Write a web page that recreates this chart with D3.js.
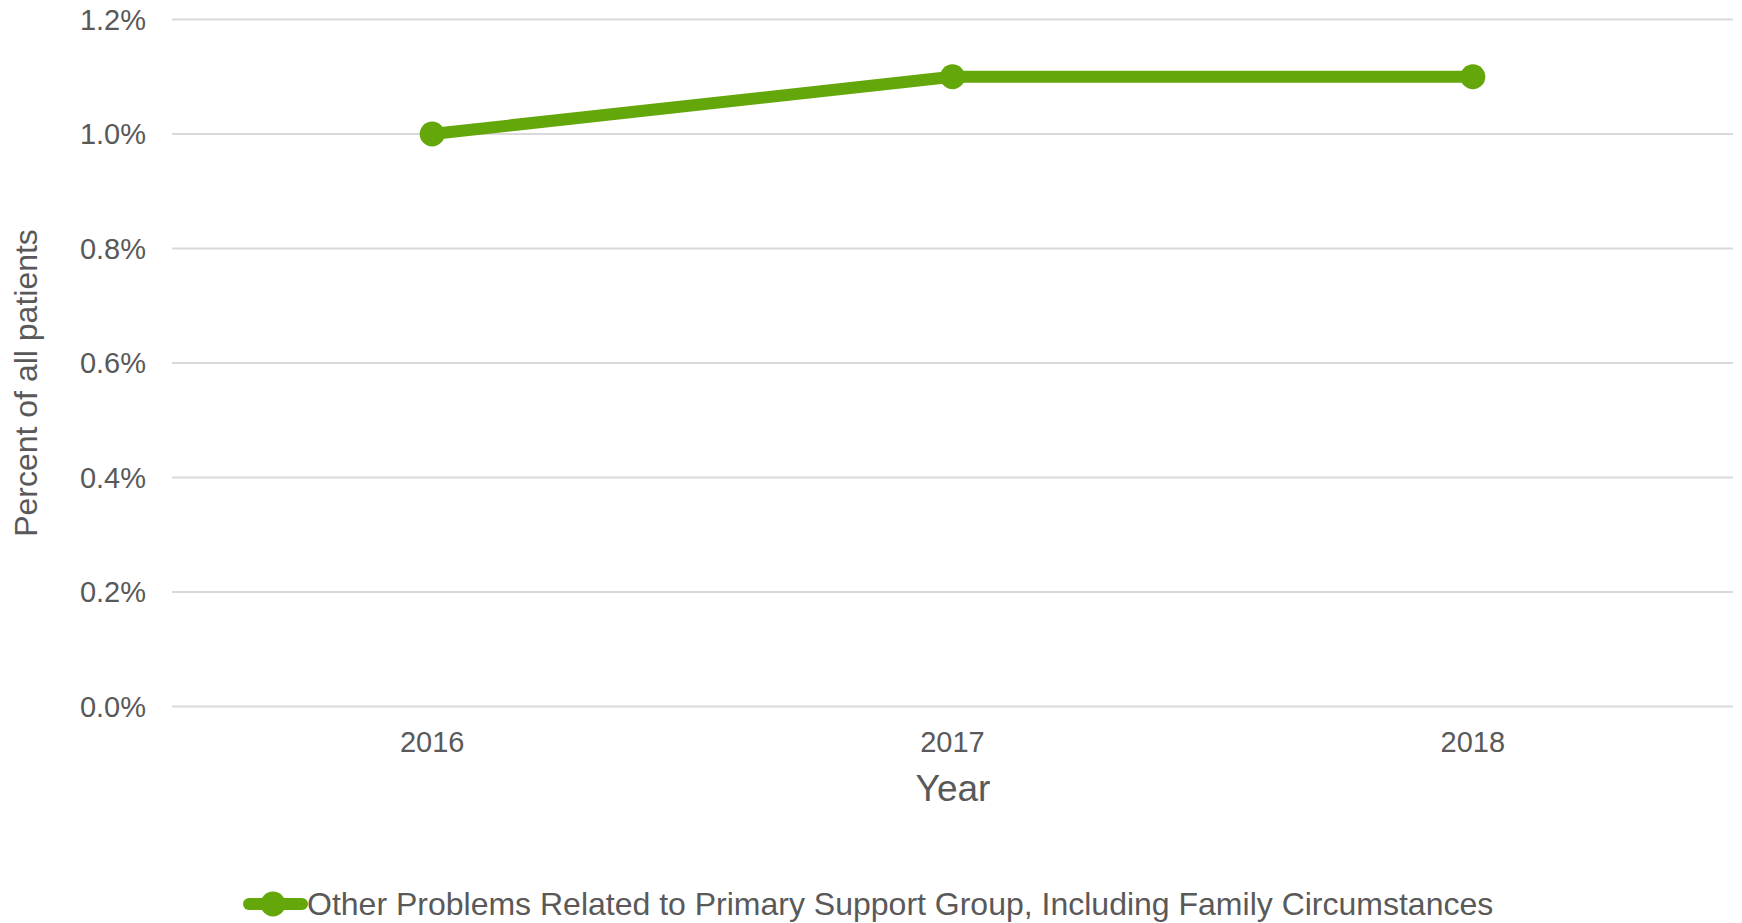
<!DOCTYPE html>
<html><head><meta charset="utf-8">
<script src="https://cdn.jsdelivr.net/npm/d3@7"></script>
<style>body{margin:0;background:#fff}svg{display:block}text{font-family:"Liberation Sans",Arial,sans-serif;fill:#595959}</style>
</head><body>
<script>
const years = ["2016","2017","2018"];
const values = [1.0, 1.1, 1.1];
const yTicks = [0, 0.2, 0.4, 0.6, 0.8, 1.0, 1.2];
const seriesName = "Other Problems Related to Primary Support Group, Including Family Circumstances";
const W = 1742, H = 923;
const m = {l:172, r:9, t:19.5, b:216.5};
const svg = d3.select("body").append("svg").attr("width",W).attr("height",H);
const x = d3.scaleBand().domain(years).range([m.l, W-m.r]);
const y = d3.scaleLinear().domain([0,1.2]).range([H-m.b, m.t]);
const green = "#64a70b";
// grid
svg.append("g").selectAll("line").data(yTicks).join("line")
  .attr("x1",m.l).attr("x2",W-m.r).attr("y1",d=>y(d)).attr("y2",d=>y(d))
  .attr("stroke","#d9d9d9").attr("stroke-width",2);
// y labels
svg.append("g").selectAll("text").data(yTicks).join("text")
  .attr("x",146).attr("y",d=>y(d)+10).attr("text-anchor","end")
  .style("font-size","29px").text(d=>d.toFixed(1)+"%");
// x labels
svg.append("g").selectAll("text").data(years).join("text")
  .attr("x",d=>x(d)+x.bandwidth()/2).attr("y",752).attr("text-anchor","middle")
  .style("font-size","29px").text(d=>d);
// axis titles
svg.append("text").attr("x",953).attr("y",801).attr("text-anchor","middle")
  .style("font-size","37px").text("Year");
svg.append("text").attr("transform","translate(36.5,383) rotate(-90)").attr("text-anchor","middle")
  .style("font-size","32px").text("Percent of all patients");
// line
const pts = years.map((d,i)=>({year:d,v:values[i]}));
svg.append("path").datum(pts)
  .attr("d",d3.line().x(d=>x(d.year)+x.bandwidth()/2).y(d=>y(d.v)))
  .attr("fill","none").attr("stroke",green).attr("stroke-width",12).attr("stroke-linejoin","round");
svg.append("g").selectAll("circle").data(pts).join("circle")
  .attr("cx",d=>x(d.year)+x.bandwidth()/2).attr("cy",d=>y(d.v)).attr("r",12.5).attr("fill",green);
// legend
const lg = svg.append("g");
lg.append("line").attr("x1",249).attr("x2",302).attr("y1",904).attr("y2",904)
  .attr("stroke",green).attr("stroke-width",12).attr("stroke-linecap","round");
lg.append("circle").attr("cx",273).attr("cy",904).attr("r",12.5).attr("fill",green);
lg.append("text").attr("x",307).attr("y",915).style("font-size","32px").text(seriesName);
</script>
</body></html>
